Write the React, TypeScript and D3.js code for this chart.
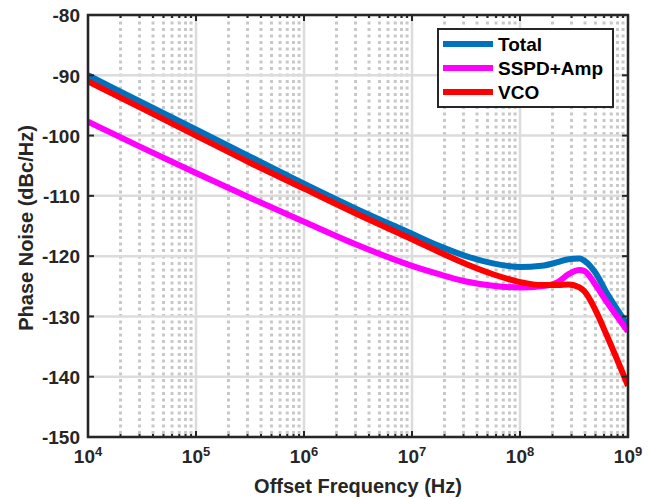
import React from "react";
import * as d3 from "d3";

const logFreq = [4, 4.5, 5, 5.5, 6, 6.5, 7, 7.25, 7.5, 7.75, 8, 8.2, 8.35, 8.45, 8.55, 8.6, 8.7, 8.8, 9];
const totalNoise = [-90, -94.5, -99, -103.5, -108, -112.3, -116.3, -118.3, -120, -121.2, -121.8, -121.6, -121, -120.5, -120.4, -120.8, -122.8, -126, -131.5];
const sspdNoise = [-97.7, -102, -106.2, -110.3, -114.3, -118.2, -121.6, -123, -124.2, -124.9, -125.2, -125, -124.3, -123, -122.3, -122.5, -124.8, -127.5, -132.5];
const vcoNoise = [-91, -95.5, -100, -104.5, -108.8, -113.1, -117.2, -119.3, -121.3, -123, -124.3, -124.8, -124.8, -124.7, -125.2, -125.9, -129, -133, -141.5];

const seriesNames = ["Total", "SSPD+Amp", "VCO"];
const seriesColors = ["#0072BD", "#FF00FF", "#FF0000"];
const yTicks = [-80, -90, -100, -110, -120, -130, -140, -150];
const xDecades = [4, 5, 6, 7, 8, 9];

const W = 655, H = 499;
const L = 88, R = 628, T = 15, B = 437;
const FONT = "'Liberation Sans', Arial, sans-serif";
const AX = "#262626";

export default function App() {
  const x = d3.scaleLog().domain([1e4, 1e9]).range([L, R]);
  const y = d3.scaleLinear().domain([-150, -80]).range([B, T]);
  const series = [totalNoise, sspdNoise, vcoNoise];
  const line = d3
    .line<[number, number]>()
    .x((d) => x(Math.pow(10, d[0])))
    .y((d) => y(d[1]))
    .curve(d3.curveMonotoneX);

  const minor: number[] = [];
  for (let e = 4; e < 9; e++) for (let k = 2; k <= 9; k++) minor.push(k * Math.pow(10, e));

  return (
    <svg width={W} height={H} style={{ position: "absolute", left: 0, top: 0, background: "#fff" }} fontFamily={FONT}>
      <defs>
        <clipPath id="plotclip">
          <rect x={L} y={T} width={R - L} height={B - T} />
        </clipPath>
      </defs>
      {minor.map((v, i) => (
        <line key={"mg" + i} x1={x(v)} x2={x(v)} y1={T} y2={B} stroke="#c8c8c8" strokeWidth={3} strokeDasharray="3,3.5" />
      ))}
      {xDecades.map((e) => (
        <line key={"vx" + e} x1={x(Math.pow(10, e))} x2={x(Math.pow(10, e))} y1={T} y2={B} stroke="#dcdcdc" strokeWidth={2.5} />
      ))}
      {yTicks.map((v) => (
        <line key={"hy" + v} x1={L} x2={R} y1={y(v)} y2={y(v)} stroke="#dcdcdc" strokeWidth={2.5} />
      ))}
      <g clipPath="url(#plotclip)">
        {series.map((s, i) => (
          <path
            key={"s" + i}
            d={line(logFreq.map((f, j) => [f, s[j]] as [number, number])) || ""}
            fill="none"
            stroke={seriesColors[i]}
            strokeWidth={6}
            strokeLinejoin="round"
          />
        ))}
      </g>
      {yTicks.map((v) => (
        <g key={"yt" + v}>
          <line x1={L} x2={L + 6} y1={y(v)} y2={y(v)} stroke={AX} strokeWidth={2} />
          <line x1={R} x2={R - 6} y1={y(v)} y2={y(v)} stroke={AX} strokeWidth={2} />
          <text x={L - 8} y={y(v)} dy="0.38em" textAnchor="end" fontSize={19} fontWeight="bold" fill={AX}>
            {v}
          </text>
        </g>
      ))}
      {minor.map((v, i) => (
        <g key={"mt" + i}>
          <line x1={x(v)} x2={x(v)} y1={B} y2={B - 3} stroke={AX} strokeWidth={2} />
          <line x1={x(v)} x2={x(v)} y1={T} y2={T + 3} stroke={AX} strokeWidth={2} />
        </g>
      ))}
      {xDecades.map((e) => (
        <g key={"xt" + e}>
          <line x1={x(Math.pow(10, e))} x2={x(Math.pow(10, e))} y1={B} y2={B - 6} stroke={AX} strokeWidth={2} />
          <line x1={x(Math.pow(10, e))} x2={x(Math.pow(10, e))} y1={T} y2={T + 6} stroke={AX} strokeWidth={2} />
          <text x={x(Math.pow(10, e))} y={463} textAnchor="middle" fontSize={19} fontWeight="bold" fill={AX}>
            10
            <tspan fontSize={13} dy={-7}>{e}</tspan>
          </text>
        </g>
      ))}
      <rect x={L} y={T} width={R - L} height={B - T} fill="none" stroke={AX} strokeWidth={2.5} />
      <text x={(L + R) / 2} y={493} textAnchor="middle" fontSize={20} fontWeight="bold" fill={AX}>
        Offset Frequency (Hz)
      </text>
      <text
        transform={`translate(33, ${(T + B) / 2 + 2}) rotate(-90)`}
        textAnchor="middle"
        fontSize={20}
        fontWeight="bold"
        fill={AX}
      >
        Phase Noise (dBc/Hz)
      </text>
      <g>
        <rect x={438} y={29} width={175} height={78} fill="#fff" stroke={AX} strokeWidth={2} />
        {seriesNames.map((n, i) => (
          <g key={"lg" + i}>
            <line x1={443} x2={493} y1={44 + i * 24} y2={44 + i * 24} stroke={seriesColors[i]} strokeWidth={6} />
            <text x={498} y={44 + i * 24} dy="0.36em" fontSize={19} fontWeight="bold" fill="#000">
              {n}
            </text>
          </g>
        ))}
      </g>
    </svg>
  );
}
